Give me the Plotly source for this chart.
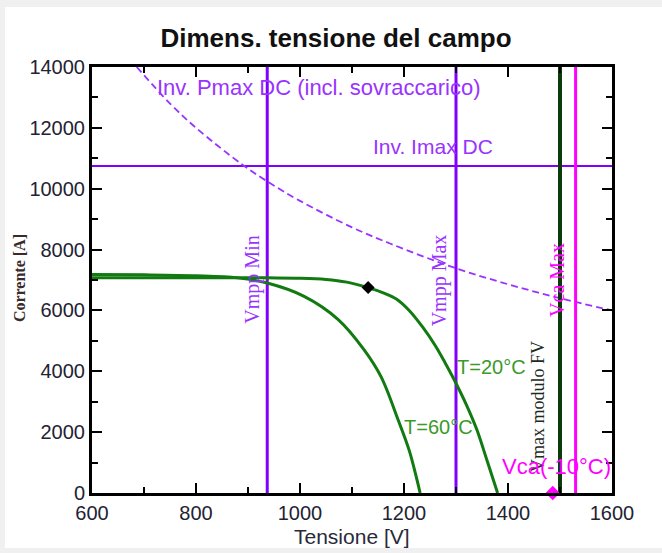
import plotly.graph_objects as go

# I-V curves of the PV field at two cell temperatures (V, A)
v_t20 = [600, 700, 800, 900, 937, 1000, 1050, 1090, 1131, 1160, 1186, 1210, 1236, 1260, 1280, 1296, 1320, 1340, 1360, 1380]
i_t20 = [7075, 7075, 7075, 7075, 7070, 7060, 7020, 6930, 6750, 6580, 6370, 6000, 5450, 4850, 4250, 3740, 2900, 2085, 1050, 0]

v_t60 = [600, 700, 800, 880, 937, 1007, 1073, 1123, 1156, 1189, 1210, 1225, 1231]
i_t60 = [7180, 7170, 7140, 7070, 6900, 6470, 5707, 4711, 3815, 2389, 1400, 430, 0]

# Inverter DC power limit (incl. overload)
v_pmax = [686, 750, 800, 890, 937, 1000, 1100, 1173, 1294, 1400, 1498, 1600]
i_pmax = [14000, 12800, 12000, 10780, 10240, 9600, 8730, 8200, 7420, 6860, 6410, 6000]

# Limits
i_max_dc = 10750
v_mpp_min = 937
v_mpp_max = 1300
v_max_modulo = 1500
v_ca_max = 1530

# Operating points
mpp_point = (1131, 6750)
voc_m10 = (1486, 0)

purple = "#8000ff"
purple_txt = "#9933ff"
green = "#117a11"
green_txt = "#3a9a2a"
magenta = "#ff00ff"
dark_green = "#0b3a0b"

fig = go.Figure()

def add_line(x, y, color, width, dash="solid", shape="linear"):
    fig.add_trace(go.Scatter(x=x, y=y, mode="lines", hoverinfo="skip",
                             line=dict(color=color, width=width, dash=dash, shape=shape)))

add_line([600, 1600], [i_max_dc, i_max_dc], purple, 2)
add_line(v_pmax, i_pmax, purple_txt, 1.8, dash="7px,4px", shape="spline")
add_line([v_mpp_min, v_mpp_min], [0, 14000], purple, 3)
add_line([v_mpp_max, v_mpp_max], [0, 14000], purple, 3)
add_line([v_ca_max, v_ca_max], [0, 14000], magenta, 3)
add_line(v_t60, i_t60, green, 3, shape="spline")
add_line(v_t20, i_t20, green, 3, shape="spline")
add_line([v_max_modulo, v_max_modulo], [0, 14000], dark_green, 4)

fig.add_trace(go.Scatter(x=[mpp_point[0]], y=[mpp_point[1]], mode="markers", hoverinfo="skip",
                         marker=dict(symbol="diamond", size=10, color="black")))
fig.add_trace(go.Scatter(x=[voc_m10[0]], y=[voc_m10[1]], mode="markers", hoverinfo="skip",
                         cliponaxis=False,
                         marker=dict(symbol="diamond", size=11, color=magenta)))

sans = "Liberation Sans, Arial, sans-serif"
serif = "Liberation Serif, Times New Roman, serif"

def label(text, x, y, color, size, font=sans, angle=0, xanchor="center"):
    fig.add_annotation(x=x, y=y, xref="x", yref="y", text=text, showarrow=False,
                       textangle=angle, xanchor=xanchor, yanchor="middle",
                       font=dict(family=font, size=size, color=color))

label("Inv. Pmax DC (incl. sovraccarico)", 1037, 13330, purple_txt, 22)
label("Inv. Imax DC", 1256, 11400, purple_txt, 21)
label("Vmpp Min", 907, 7000, purple_txt, 20, font=serif, angle=-90)
label("Vmpp Max", 1268, 7000, purple_txt, 20, font=serif, angle=-90)
label("Vca Max", 1494, 7000, magenta, 20, font=serif, angle=-90)
label("Vmax modulo FV", 1458, 2830, "#1c2a1c", 18, font=serif, angle=-90)
label("T=20°C", 1298, 4140, green_txt, 20, xanchor="left")
label("T=60°C", 1196, 2170, green_txt, 20, xanchor="left")
label("Vca(-10°C)", 1385, 855, magenta, 22, xanchor="left")

# Axis titles
fig.add_annotation(x=-0.138, y=0.505, xref="paper", yref="paper", text="<b>Corrente [A]</b>",
                   showarrow=False, textangle=-90, xanchor="center", yanchor="middle",
                   font=dict(family=serif, size=16, color="#3a2a2a"))
fig.add_annotation(x=0.5, y=-0.103, xref="paper", yref="paper", text="Tensione [V]",
                   showarrow=False, xanchor="center", yanchor="middle",
                   font=dict(family=sans, size=21, color="#2a2a3a"))

# Frame strips around the panel
for (x0, y0, x1, y1) in [(0, 0, 662, 7), (0, 548, 662, 553), (0, 0, 5, 553)]:
    fig.add_shape(type="rect", xref="paper", yref="paper", layer="below", line_width=0,
                  fillcolor="#f0f0f0",
                  x0=(x0 - 92) / 520, x1=(x1 - 92) / 520,
                  y0=(493 - y0) / 426, y1=(493 - y1) / 426)

axis_common = dict(showgrid=False, zeroline=False, showline=True, linecolor="black", linewidth=3,
                   mirror="allticks", ticks="inside", ticklen=10, tickwidth=2, tickcolor="black",
                   tickformat="d",
                   tickfont=dict(family=sans, size=20, color="#222233"))

fig.update_xaxes(range=[600, 1600], dtick=200, tick0=600,
                 minor=dict(dtick=100, ticks="inside", ticklen=6, tickwidth=2, tickcolor="black"),
                 **axis_common)
fig.update_yaxes(range=[0, 14000], dtick=2000, tick0=0,
                 minor=dict(dtick=1000, ticks="inside", ticklen=6, tickwidth=2, tickcolor="black"),
                 **axis_common)

fig.update_layout(
    width=662, height=553,
    margin=dict(l=92, r=50, t=67, b=60),
    paper_bgcolor="white", plot_bgcolor="white",
    showlegend=False,
    title=dict(text="<b>Dimens. tensione del campo</b>", x=0.5076, y=1 - 38 / 553,
               xanchor="center", yanchor="middle",
               font=dict(family=sans, size=26, color="#111111")),
)

fig.write_html("out.html")
